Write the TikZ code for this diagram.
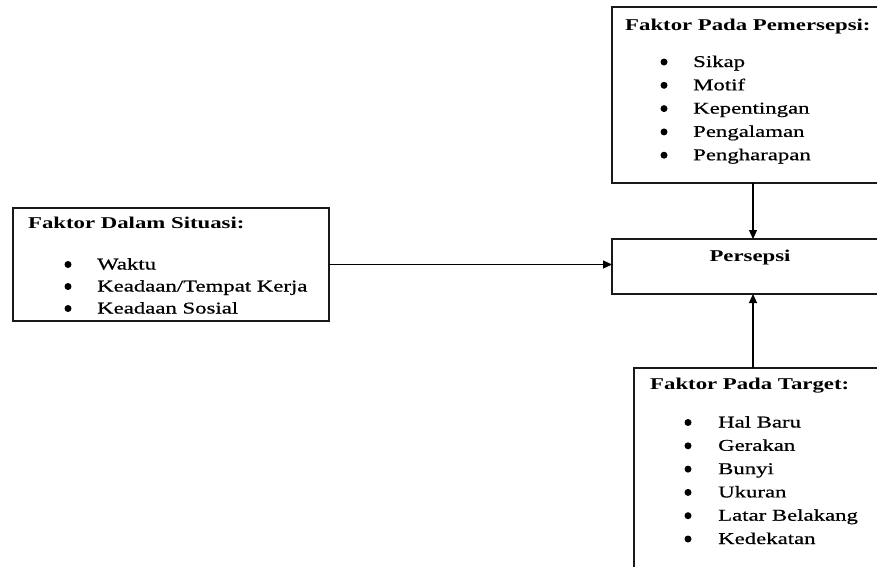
\documentclass[tikz,border=0pt]{standalone}
\usepackage{fontspec}
\setmainfont[FakeStretch=1.38]{Liberation Serif}
\newfontfamily\itemfont[FakeStretch=1.38,FakeBold=0.6]{Liberation Serif}
\usetikzlibrary{arrows.meta}
\begin{document}
\begin{tikzpicture}[x=1pt,y=-1pt,
  box/.style={draw=black!90, line width=1.3pt, rectangle, inner sep=0pt, outer sep=0pt, anchor=north west},
  lbl/.style={anchor=base west, inner sep=0pt, font=\fontsize{16.5}{19}\selectfont\bfseries},
  itm/.style={anchor=base west, inner sep=0pt, font=\fontsize{16.5}{19}\itemfont},
  dot/.style={circle, fill=black, inner sep=0pt, minimum size=7pt},
  arr/.style={line width=1.1pt, -{Triangle[length=9pt,width=8pt]}}]
\useasboundingbox (0,0) rectangle (877,566);
\clip (0,0) rectangle (877,566);
% boxes
\node[box, minimum width=282pt, minimum height=176pt] (pem) at (612,7) {};
\node[box, minimum width=316pt, minimum height=113pt] (sit) at (13,208) {};
\node[box, minimum width=282pt, minimum height=55pt] (pers) at (612,239) {};
\node[box, minimum width=300pt, minimum height=230pt] (tgt) at (634,368) {};
% titles
\node[lbl] (pemt) at (625,30) {Faktor Pada Pemersepsi:};
\node[lbl] (sitt) at (28,228) {Faktor Dalam Situasi:};
\node[lbl, anchor=base] (perst) at (750,261) {Persepsi};
\node[lbl] (tgtt) at (650,389) {Faktor Pada Target:};
% items
\foreach \t [count=\i] in {Sikap,Motif,Kepentingan,Pengalaman,Pengharapan} {
  \node[itm] (pemi\i) at (693,{67+23.3*(\i-1)}) {\t};
  \node[dot] (pemb\i) at (664,{62+23.3*(\i-1)}) {};
}
\foreach \t [count=\i] in {Waktu,Keadaan/Tempat Kerja,Keadaan Sosial} {
  \node[itm] (siti\i) at (97,{269.5+22*(\i-1)}) {\t};
  \node[dot] (sitb\i) at (68,{264.5+22*(\i-1)}) {};
}
\foreach \t [count=\i] in {Hal Baru,Gerakan,Bunyi,Ukuran,Latar Belakang,Kedekatan} {
  \node[itm] (tgti\i) at (718,{427.5+23.3*(\i-1)}) {\t};
  \node[dot] (tgtb\i) at (688,{422.5+23.3*(\i-1)}) {};
}
% connectors
\draw[arr] (pem.south) -- (pers.north);
\draw[arr] (sit.east) -- (sit.east -| pers.west);
\draw[arr] (tgt.north -| pers.south) -- (pers.south);
\end{tikzpicture}
\end{document}
